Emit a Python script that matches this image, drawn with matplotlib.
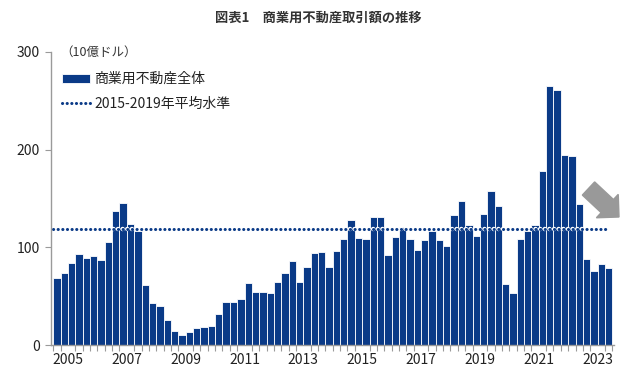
import numpy as np
import matplotlib
matplotlib.use("Agg")
import matplotlib.pyplot as plt
from matplotlib.patches import FancyArrow
from matplotlib.transforms import IdentityTransform

plt.rcParams['font.family'] = ['Noto Sans CJK JP', 'DejaVu Sans']
plt.rcParams['lines.scale_dashes'] = False

# 四半期ごとの取引額（10億ドル）2005Q1〜2023Q4
years = list(range(2005, 2024))
values = [
    69, 73.5, 84, 93,
    89, 91, 87, 105,
    137, 145, 124, 117,
    61, 43.5, 40, 26,
    14, 10, 13.6, 17,
    18.7, 19.7, 32, 44.5,
    44.5, 46.6, 63, 54,
    54, 53, 65, 74,
    86, 65, 80, 94,
    95, 80, 96, 108.5,
    128, 110, 109, 131,
    131, 92, 110.5, 121,
    108.5, 97, 108, 117,
    108, 101, 133, 147,
    123, 112, 134, 157.5,
    142, 62, 53.4, 109,
    117, 123, 178, 265,
    261.6, 195, 193.5, 144.6,
    88, 75.5, 83, 79,
]
avg_2015_2019 = 119
label_years = years[::2]
yticks = [0, 100, 200, 300]

navy = '#0a3a87'
grey = '#9a9a9a'

fig = plt.figure(figsize=(6.4, 3.79), dpi=100)
ax = fig.add_axes([0.0797, 0.0897, 0.959 - 0.0797, 0.8628 - 0.0897])

x = np.arange(len(values))
bars = ax.bar(x, values, width=1.0, color=navy, edgecolor='white', linewidth=0.6)

# 平均水準（白い縁取り付きの点線）
xl = [x[0] - 0.5, x[-1] - 0.3]
ax.plot(xl, [avg_2015_2019] * 2, color='white', linewidth=3.2,
        linestyle=(0, (0.1, 3.24)), dash_capstyle='round')
line, = ax.plot(xl, [avg_2015_2019] * 2, color=navy, linewidth=2.2,
                linestyle=(0, (0.1, 3.24)), dash_capstyle='round')

ax.set_xlim(-0.81, len(values) - 0.3)
ax.set_ylim(0, 300)

for s in ['top', 'right']:
    ax.spines[s].set_visible(False)
for s in ['left', 'bottom']:
    ax.spines[s].set_color(grey)
    ax.spines[s].set_linewidth(1.0)

ax.set_yticks(yticks)
ax.set_yticklabels([str(v) for v in yticks])
ax.tick_params(axis='y', length=4, color=grey, labelsize=10, labelcolor='#222222', pad=4)

centers = [4 * (yr - years[0]) + 1.5 for yr in label_years]
ax.set_xticks(centers)
ax.set_xticklabels([str(yr) for yr in label_years])
ax.tick_params(axis='x', which='major', length=0, labelsize=10, labelcolor='#222222', pad=6)
ax.set_xticks(np.arange(len(values) + 1) - 0.5, minor=True)
ax.tick_params(axis='x', which='minor', length=4, color=grey, width=0.8)

ax.text(0.016, 1.0, '（10億ドル）', transform=ax.transAxes, fontsize=9,
        color='#333333', va='center', ha='left')

leg = ax.legend([bars, line], ['商業用不動産全体', '2015-2019年平均水準'],
                loc='upper left', bbox_to_anchor=(0.01, 0.95), frameon=False,
                fontsize=10, handlelength=2.0, handleheight=0.6,
                handletextpad=0.3, labelspacing=0.75, borderaxespad=0)
for t in leg.get_texts():
    t.set_color('#222222')

fig.text(0.497, 0.952, '図表1　商業用不動産取引額の推移', ha='center', va='center',
         fontsize=9.5, fontweight='bold', color='#333333')

# 下向き矢印
H = 379
arrow = FancyArrow(588.5, H - 188.5, 30.5, -28.5, width=18, head_width=32,
                   head_length=16, length_includes_head=True,
                   color='#999999', transform=IdentityTransform())
fig.add_artist(arrow)

fig.savefig('out.png', dpi=100)
